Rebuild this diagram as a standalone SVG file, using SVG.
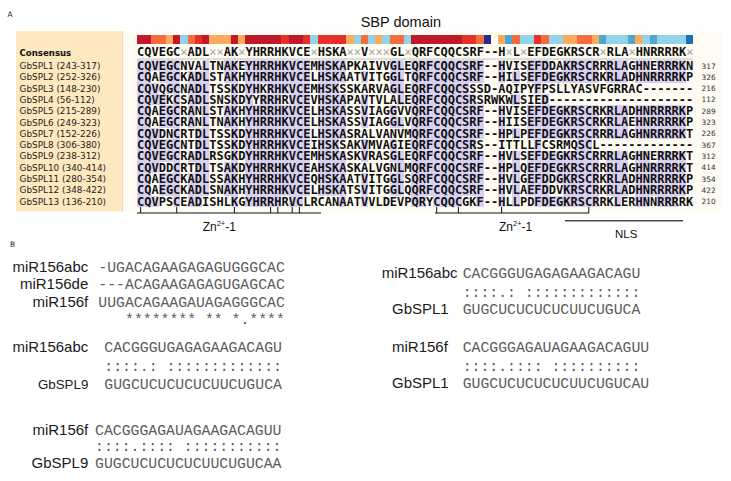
<svg xmlns="http://www.w3.org/2000/svg" width="731" height="481" viewBox="0 0 731 481">
<style>
.lab{font-family:"DejaVu Sans",sans-serif;font-size:8.9px;fill:#1e1e1e}
.cons{font-family:"DejaVu Sans",sans-serif;font-size:8.6px;font-weight:bold;fill:#111}
.num{font-family:"DejaVu Sans",sans-serif;font-size:7.4px;fill:#333}
.seq{font-family:"DejaVu Sans Mono",monospace;font-size:12px;font-weight:bold;fill:#111}
.x{font-weight:normal;fill:#a3a3a3}
.hl rect{fill:#d8d0f0}
.DR{fill:#bf1a2c}.R{fill:#e8302a}.OR{fill:#f56c3e}.LO{fill:#fcaa5e}.LB{fill:#93d3e7}.MB{fill:#4ea6d2}.DB{fill:#1e70b6}.NV{fill:#232f8e}
.t12{font-family:"Liberation Sans",Arial,sans-serif;font-size:12px;fill:#111}
.bl{font-family:"Liberation Sans",Arial,sans-serif;font-size:15px;fill:#1a1a1a}
.rna{font-family:"Liberation Mono","Courier New",monospace;font-size:14.8px;fill:#5c5c5c}
.pl{font-family:"DejaVu Sans",sans-serif;font-size:7.5px;fill:#222}
</style>

<g id="panelA">
<text class="pl" x="7.5" y="16.7">A</text>
<text x="360.7" y="26.7" style="font-family:'Liberation Sans',Arial,sans-serif;font-size:14.5px;fill:#111">SBP domain</text>

<rect x="16" y="31" width="106" height="180.5" fill="#fde8bf"/>
<rect x="122" y="31" width="600" height="180.5" fill="#fefbf2"/>
<line x1="122.5" y1="31" x2="122.5" y2="211.5" stroke="#e6dcc6" stroke-width="1"/>

<g id="conservation-bar" transform="translate(129.78,34.5) scale(7.22,9)" shape-rendering="crispEdges">
<rect class="DR" x="1" y="0" width="2" height="1"/>
<rect class="OR" x="3" y="0" width="2" height="1"/>
<rect class="LO" x="5" y="0" width="1" height="1"/>
<rect class="DR" x="6" y="0" width="1" height="1"/>
<rect class="LB" x="7" y="0" width="1" height="1"/>
<rect class="OR" x="8" y="0" width="1" height="1"/>
<rect class="R" x="9" y="0" width="1" height="1"/>
<rect class="DR" x="10" y="0" width="1" height="1"/>
<rect class="LO" x="11" y="0" width="3" height="1"/>
<rect class="DR" x="14" y="0" width="1" height="1"/>
<rect class="LO" x="15" y="0" width="1" height="1"/>
<rect class="DR" x="16" y="0" width="5" height="1"/>
<rect class="R" x="21" y="0" width="1" height="1"/>
<rect class="DR" x="22" y="0" width="2" height="1"/>
<rect class="R" x="24" y="0" width="1" height="1"/>
<rect class="LB" x="25" y="0" width="1" height="1"/>
<rect class="R" x="26" y="0" width="4" height="1"/>
<rect class="LO" x="30" y="0" width="1" height="1"/>
<rect class="LB" x="31" y="0" width="1" height="1"/>
<rect class="OR" x="32" y="0" width="1" height="1"/>
<rect class="LB" x="33" y="0" width="1" height="1"/>
<rect class="LO" x="34" y="0" width="1" height="1"/>
<rect class="LB" x="35" y="0" width="1" height="1"/>
<rect class="OR" x="36" y="0" width="2" height="1"/>
<rect class="LB" x="38" y="0" width="1" height="1"/>
<rect class="DR" x="39" y="0" width="7" height="1"/>
<rect class="R" x="46" y="0" width="2" height="1"/>
<rect class="OR" x="48" y="0" width="1" height="1"/>
<rect class="NV" x="49" y="0" width="1" height="1"/>
<rect class="LO" x="51" y="0" width="1" height="1"/>
<rect class="MB" x="52" y="0" width="1" height="1"/>
<rect class="OR" x="53" y="0" width="1" height="1"/>
<rect class="LB" x="54" y="0" width="2" height="1"/>
<rect class="R" x="56" y="0" width="1" height="1"/>
<rect class="OR" x="57" y="0" width="1" height="1"/>
<rect class="LB" x="58" y="0" width="2" height="1"/>
<rect class="LO" x="60" y="0" width="2" height="1"/>
<rect class="OR" x="62" y="0" width="2" height="1"/>
<rect class="LO" x="64" y="0" width="1" height="1"/>
<rect class="MB" x="65" y="0" width="1" height="1"/>
<rect class="LB" x="66" y="0" width="3" height="1"/>
<rect class="MB" x="69" y="0" width="1" height="1"/>
<rect class="LO" x="70" y="0" width="1" height="1"/>
<rect class="LB" x="71" y="0" width="1" height="1"/>
<rect class="MB" x="72" y="0" width="1" height="1"/>
<rect class="LB" x="73" y="0" width="4" height="1"/>
<rect class="DB" x="77" y="0" width="1" height="1"/>
</g>

<g id="identity-highlight" class="hl" transform="translate(129.78,60.15) scale(7.22,11.3)" shape-rendering="crispEdges">
<rect x="1" y="0" width="6" height="1"/><rect x="10" y="0" width="1" height="1"/><rect x="13" y="0" width="2" height="1"/><rect x="16" y="0" width="9" height="1"/><rect x="26" y="0" width="4" height="1"/><rect x="36" y="0" width="2" height="1"/><rect x="39" y="0" width="10" height="1"/><rect x="51" y="0" width="1" height="1"/><rect x="55" y="0" width="3" height="1"/><rect x="60" y="0" width="5" height="1"/><rect x="66" y="0" width="3" height="1"/><rect x="70" y="0" width="2" height="1"/><rect x="73" y="0" width="4" height="1"/>
<rect x="1" y="1" width="2" height="1"/><rect x="4" y="1" width="3" height="1"/><rect x="8" y="1" width="3" height="1"/><rect x="13" y="1" width="2" height="1"/><rect x="16" y="1" width="9" height="1"/><rect x="26" y="1" width="4" height="1"/><rect x="32" y="1" width="1" height="1"/><rect x="36" y="1" width="2" height="1"/><rect x="39" y="1" width="10" height="1"/><rect x="51" y="1" width="1" height="1"/><rect x="53" y="1" width="1" height="1"/><rect x="55" y="1" width="10" height="1"/><rect x="66" y="1" width="3" height="1"/><rect x="70" y="1" width="7" height="1"/>
<rect x="1" y="2" width="3" height="1"/><rect x="5" y="2" width="2" height="1"/><rect x="8" y="2" width="3" height="1"/><rect x="14" y="2" width="1" height="1"/><rect x="16" y="2" width="2" height="1"/><rect x="19" y="2" width="6" height="1"/><rect x="26" y="2" width="3" height="1"/><rect x="36" y="2" width="2" height="1"/><rect x="39" y="2" width="8" height="1"/><rect x="56" y="2" width="1" height="1"/>
<rect x="1" y="3" width="4" height="1"/><rect x="6" y="3" width="1" height="1"/><rect x="8" y="3" width="3" height="1"/><rect x="14" y="3" width="1" height="1"/><rect x="16" y="3" width="1" height="1"/><rect x="18" y="3" width="3" height="1"/><rect x="22" y="3" width="3" height="1"/><rect x="26" y="3" width="4" height="1"/><rect x="32" y="3" width="1" height="1"/><rect x="37" y="3" width="1" height="1"/><rect x="39" y="3" width="9" height="1"/><rect x="53" y="3" width="1" height="1"/><rect x="57" y="3" width="1" height="1"/>
<rect x="1" y="4" width="2" height="1"/><rect x="4" y="4" width="3" height="1"/><rect x="8" y="4" width="1" height="1"/><rect x="10" y="4" width="1" height="1"/><rect x="13" y="4" width="2" height="1"/><rect x="16" y="4" width="9" height="1"/><rect x="26" y="4" width="4" height="1"/><rect x="32" y="4" width="1" height="1"/><rect x="36" y="4" width="1" height="1"/><rect x="39" y="4" width="10" height="1"/><rect x="51" y="4" width="1" height="1"/><rect x="55" y="4" width="10" height="1"/><rect x="66" y="4" width="3" height="1"/><rect x="70" y="4" width="7" height="1"/>
<rect x="1" y="5" width="2" height="1"/><rect x="4" y="5" width="3" height="1"/><rect x="8" y="5" width="1" height="1"/><rect x="10" y="5" width="1" height="1"/><rect x="13" y="5" width="2" height="1"/><rect x="16" y="5" width="9" height="1"/><rect x="26" y="5" width="4" height="1"/><rect x="32" y="5" width="1" height="1"/><rect x="36" y="5" width="2" height="1"/><rect x="39" y="5" width="10" height="1"/><rect x="51" y="5" width="1" height="1"/><rect x="55" y="5" width="10" height="1"/><rect x="66" y="5" width="3" height="1"/><rect x="70" y="5" width="7" height="1"/>
<rect x="1" y="6" width="3" height="1"/><rect x="6" y="6" width="1" height="1"/><rect x="9" y="6" width="2" height="1"/><rect x="14" y="6" width="1" height="1"/><rect x="16" y="6" width="9" height="1"/><rect x="26" y="6" width="4" height="1"/><rect x="39" y="6" width="10" height="1"/><rect x="51" y="6" width="1" height="1"/><rect x="53" y="6" width="1" height="1"/><rect x="55" y="6" width="10" height="1"/><rect x="66" y="6" width="3" height="1"/><rect x="70" y="6" width="7" height="1"/>
<rect x="1" y="7" width="6" height="1"/><rect x="9" y="7" width="2" height="1"/><rect x="14" y="7" width="1" height="1"/><rect x="16" y="7" width="9" height="1"/><rect x="26" y="7" width="3" height="1"/><rect x="32" y="7" width="1" height="1"/><rect x="36" y="7" width="1" height="1"/><rect x="39" y="7" width="9" height="1"/><rect x="56" y="7" width="1" height="1"/><rect x="62" y="7" width="2" height="1"/>
<rect x="1" y="8" width="6" height="1"/><rect x="8" y="8" width="3" height="1"/><rect x="14" y="8" width="1" height="1"/><rect x="16" y="8" width="9" height="1"/><rect x="26" y="8" width="4" height="1"/><rect x="32" y="8" width="1" height="1"/><rect x="36" y="8" width="2" height="1"/><rect x="39" y="8" width="10" height="1"/><rect x="51" y="8" width="1" height="1"/><rect x="53" y="8" width="1" height="1"/><rect x="55" y="8" width="10" height="1"/><rect x="66" y="8" width="3" height="1"/><rect x="70" y="8" width="2" height="1"/><rect x="73" y="8" width="4" height="1"/>
<rect x="1" y="9" width="3" height="1"/><rect x="6" y="9" width="1" height="1"/><rect x="9" y="9" width="2" height="1"/><rect x="13" y="9" width="2" height="1"/><rect x="16" y="9" width="9" height="1"/><rect x="26" y="9" width="4" height="1"/><rect x="37" y="9" width="1" height="1"/><rect x="39" y="9" width="10" height="1"/><rect x="51" y="9" width="1" height="1"/><rect x="53" y="9" width="1" height="1"/><rect x="55" y="9" width="10" height="1"/><rect x="66" y="9" width="3" height="1"/><rect x="70" y="9" width="7" height="1"/>
<rect x="1" y="10" width="2" height="1"/><rect x="4" y="10" width="3" height="1"/><rect x="8" y="10" width="3" height="1"/><rect x="13" y="10" width="2" height="1"/><rect x="16" y="10" width="9" height="1"/><rect x="26" y="10" width="4" height="1"/><rect x="32" y="10" width="1" height="1"/><rect x="36" y="10" width="2" height="1"/><rect x="39" y="10" width="10" height="1"/><rect x="51" y="10" width="1" height="1"/><rect x="53" y="10" width="1" height="1"/><rect x="55" y="10" width="3" height="1"/><rect x="59" y="10" width="6" height="1"/><rect x="66" y="10" width="3" height="1"/><rect x="70" y="10" width="7" height="1"/>
<rect x="1" y="11" width="2" height="1"/><rect x="4" y="11" width="3" height="1"/><rect x="8" y="11" width="3" height="1"/><rect x="13" y="11" width="2" height="1"/><rect x="16" y="11" width="9" height="1"/><rect x="26" y="11" width="4" height="1"/><rect x="32" y="11" width="1" height="1"/><rect x="36" y="11" width="2" height="1"/><rect x="39" y="11" width="10" height="1"/><rect x="51" y="11" width="1" height="1"/><rect x="53" y="11" width="1" height="1"/><rect x="55" y="11" width="3" height="1"/><rect x="60" y="11" width="5" height="1"/><rect x="66" y="11" width="3" height="1"/><rect x="70" y="11" width="7" height="1"/>
<rect x="1" y="12" width="3" height="1"/><rect x="6" y="12" width="1" height="1"/><rect x="8" y="12" width="2" height="1"/><rect x="14" y="12" width="1" height="1"/><rect x="16" y="12" width="5" height="1"/><rect x="22" y="12" width="2" height="1"/><rect x="29" y="12" width="1" height="1"/><rect x="32" y="12" width="1" height="1"/><rect x="39" y="12" width="2" height="1"/><rect x="42" y="12" width="4" height="1"/><rect x="48" y="12" width="1" height="1"/><rect x="51" y="12" width="1" height="1"/><rect x="53" y="12" width="1" height="1"/><rect x="56" y="12" width="9" height="1"/><rect x="67" y="12" width="1" height="1"/><rect x="70" y="12" width="2" height="1"/><rect x="73" y="12" width="3" height="1"/>
</g>

<line x1="137" y1="59" x2="693" y2="59" stroke="#b5b5b5" stroke-width="0.8"/>

<g id="consensus">
<text class="cons" x="19.5" y="55.6">Consensus</text>
<text class="seq" x="137" y="55.8">CQVEGC<tspan class="x">×</tspan>ADL<tspan class="x">××</tspan>AK<tspan class="x">×</tspan>YHRRHKVCE<tspan class="x">×</tspan>HSKA<tspan class="x">××</tspan>V<tspan class="x">×××</tspan>GL<tspan class="x">×</tspan>QRFCQQCSRF--H<tspan class="x">×</tspan>L<tspan class="x">×</tspan>EFDEGKRSCR<tspan class="x">×</tspan>RLA<tspan class="x">×</tspan>HNRRRRK<tspan class="x">×</tspan></text>
</g>

<g id="row-labels">
<text class="lab" x="19.5" y="69.0">GbSPL1 (243-317)</text>
<text class="lab" x="19.5" y="80.3">GbSPL2 (252-326)</text>
<text class="lab" x="19.5" y="91.6">GbSPL3 (148-230)</text>
<text class="lab" x="19.5" y="102.9">GbSPL4 (56-112)</text>
<text class="lab" x="19.5" y="114.2">GbSPL5 (215-289)</text>
<text class="lab" x="19.5" y="125.5">GbSPL6 (249-323)</text>
<text class="lab" x="19.5" y="136.8">GbSPL7 (152-226)</text>
<text class="lab" x="19.5" y="148.1">GbSPL8 (306-380)</text>
<text class="lab" x="19.5" y="159.4">GbSPL9 (238-312)</text>
<text class="lab" x="19.5" y="170.7">GbSPL10 (340-414)</text>
<text class="lab" x="19.5" y="182.0">GbSPL11 (280-354)</text>
<text class="lab" x="19.5" y="193.3">GbSPL12 (348-422)</text>
<text class="lab" x="19.5" y="204.6">GbSPL13 (136-210)</text>
</g>

<g id="row-sequences">
<text class="seq" x="137" y="69.9">CQVEGCNVALTNAKEYHRRHKVCEMHSKAPKAIVVGLEQRFCQQCSRF--HVISEFDDAKRSCRRRLAGHNERRRKN</text>
<text class="seq" x="137" y="81.2">CQAEGCKADLSTAKHYHRRHKVCELHSKAATVITGGLTQRFCQQCSRF--HILSEFDEGKRSCRKRLADHNRRRRKP</text>
<text class="seq" x="137" y="92.5">CQVQGCNADLTSSKDYHKRHKVCEMHSKSSKARVAGLEQRFCQQCSSSD-AQIPYFPSLLYASVFGRRAC-------</text>
<text class="seq" x="137" y="103.8">CQVEKCSADLSNSKDYYRRHRVCEVHSKAPAVTVLALEQRFCQQCSRSRWKWLSIED--------------------</text>
<text class="seq" x="137" y="115.1">CQAEGCRANLSTAKHYHRRHKVCELHSKASSVIAGGVVQRFCQQCSRF--HVISEFDEGKRSCRKRLADHNRRRRKP</text>
<text class="seq" x="137" y="126.4">CQAEGCRANLTNAKHYHRRHKVCELHSKASSVIAGGLVQRFCQQCSRF--HIISEFDEGKRSCRKRLAEHNRRRRKP</text>
<text class="seq" x="137" y="137.7">CQVDNCRTDLTSSKDYHRRHKVCELHSKASRALVANVMQRFCQQCSRF--HPLPEFDEGKRSCRRRLAGHNRRRRKT</text>
<text class="seq" x="137" y="149.0">CQVEGCNTDLTSSKDYHRRHKVCEIHSKSAKVMVAGIEQRFCQQCSRS--ITTLLFCSRMQSCL-------------</text>
<text class="seq" x="137" y="160.3">CQVEGCRADLRSGKDYHRRHKVCEMHSKASKVRASGLEQRFCQQCSRF--HVLSEFDEGKRSCRRRLAGHNERRRKT</text>
<text class="seq" x="137" y="171.6">CQVDDCRTDLTSAKDYHRRHKVCEAHSKASKALVGNLMQRFCQQCSRF--HPLQEFDEGKRSCRRRLAGHNRRRRKT</text>
<text class="seq" x="137" y="182.9">CQAEGCKADLSSAKHYHRRHKVCEQHSKAATVITGGLSQRFCQQCSRF--HVLGEFDDGKRSCRKRLADHNRRRRKP</text>
<text class="seq" x="137" y="194.2">CQAEGCKADLSNAKHYHRRHKVCELHSKATSVITGGLQQRFCQQCSRF--HVLAEFDDVKRSCRKRLADHNRRRRKP</text>
<text class="seq" x="137" y="205.5">CQVPSCEADISHLKGYHRRHRVCLRCANAATVVLDEVPQRYCQQCGKF--HLLPDFDEGKRSCRRKLERHNNRRRRK</text>
</g>

<g id="row-ends">
<text class="num" x="701.5" y="68.5">317</text>
<text class="num" x="701.5" y="79.8">326</text>
<text class="num" x="701.5" y="91.1">216</text>
<text class="num" x="701.5" y="102.4">112</text>
<text class="num" x="701.5" y="113.7">289</text>
<text class="num" x="701.5" y="125.0">323</text>
<text class="num" x="701.5" y="136.3">226</text>
<text class="num" x="701.5" y="147.6">367</text>
<text class="num" x="701.5" y="158.9">312</text>
<text class="num" x="701.5" y="170.2">414</text>
<text class="num" x="701.5" y="181.5">354</text>
<text class="num" x="701.5" y="192.8">422</text>
<text class="num" x="701.5" y="204.1">210</text>
</g>

<g id="domain-marks">
<path d="M137,213H321M140.6,207V213M176.7,207V213M234.4,207V213M270.6,207V213M277.8,207V213M292.2,207V213M299.4,207V213M435,213H589M436.7,207V213M458.4,207V213M501.6,207V213M588.8,207V213" fill="none" stroke="#111" stroke-width="1"/>
<line x1="565" y1="220.7" x2="683" y2="220.7" stroke="#4a4a4a" stroke-width="1.4"/>
<text class="t12" x="202.7" y="230.8">Zn<tspan font-size="7.5" dy="-4.6">2+</tspan><tspan dy="4.6">-1</tspan></text>
<text class="t12" x="499" y="230.6">Zn<tspan font-size="7.5" dy="-4.6">2+</tspan><tspan dy="4.6">-1</tspan></text>
<text class="t12" x="615" y="237.5" style="font-size:11.5px">NLS</text>
</g>
</g>

<g id="panelB" xml:space="preserve">
<text class="pl" x="10" y="247.3">B</text>

<g id="mir-alignment">
<text class="bl" x="88.3" y="272" text-anchor="end">miR156abc</text>
<text class="bl" x="88.3" y="289.4" text-anchor="end">miR156de</text>
<text class="bl" x="88.3" y="306.8" text-anchor="end">miR156f</text>
<text class="rna" x="98.3" y="272">-UGACAGAAGAGAGUGGGCAC</text>
<text class="rna" x="98.3" y="289.4">---ACAGAAGAGAGUGAGCAC</text>
<text class="rna" x="98.3" y="306.8">UUGACAGAAGAUAGAGGGCAC</text>
<text class="rna" x="125" y="323.5">******** ** *.****</text>
</g>

<g id="pair-abc-SPL9">
<text class="bl" x="88.3" y="351.8" text-anchor="end">miR156abc</text>
<text class="bl" x="88.3" y="389" text-anchor="end" style="font-size:13.3px">GbSPL9</text>
<text class="rna" x="104.3" y="351.8">CACGGGUGAGAGAAGACAGU</text>
<text class="rna" x="104.3" y="371.3">::::.: :::::::::::::</text>
<text class="rna" x="104.3" y="389">GUGCUCUCUCUCUUCUGUCA</text>
</g>

<g id="pair-f-SPL9">
<text class="bl" x="88.3" y="435.2" text-anchor="end">miR156f</text>
<text class="bl" x="88.3" y="468.2" text-anchor="end">GbSPL9</text>
<text class="rna" x="95" y="435.2">CACGGGAGAUAGAAGACAGUU</text>
<text class="rna" x="95" y="450.8">::::.:::: :::::::::::</text>
<text class="rna" x="95" y="468.2">GUGCUCUCUCUCUUCUGUCAA</text>
</g>

<g id="pair-abc-SPL1">
<text class="bl" x="381.7" y="278.3">miR156abc</text>
<text class="bl" x="392" y="314">GbSPL1</text>
<text class="rna" x="462.7" y="278.3">CACGGGUGAGAGAAGACAGU</text>
<text class="rna" x="462.7" y="296.5">::::.: :::::::::::::</text>
<text class="rna" x="462.7" y="314">GUGCUCUCUCUCUUCUGUCA</text>
</g>

<g id="pair-f-SPL1">
<text class="bl" x="392" y="352.3">miR156f</text>
<text class="bl" x="392" y="388.3">GbSPL1</text>
<text class="rna" x="462.7" y="352.3">CACGGGAGAUAGAAGACAGUU</text>
<text class="rna" x="462.7" y="370.5">::::.:::: ::::::::::</text>
<text class="rna" x="462.7" y="388.3">GUGCUCUCUCUCUUCUGUCAU</text>
</g>
</g>
</svg>
